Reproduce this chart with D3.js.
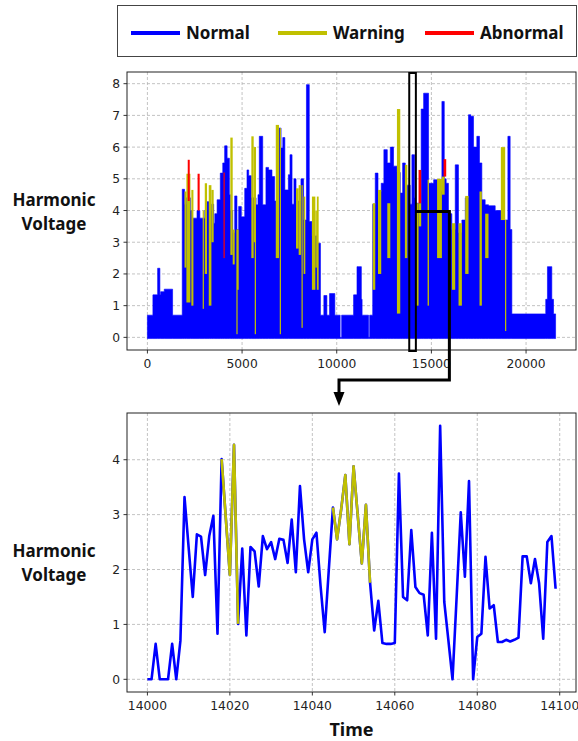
<!DOCTYPE html>
<html>
<head>
<meta charset="utf-8">
<script src="https://cdn.jsdelivr.net/npm/d3@7/dist/d3.min.js"></script>
<style>
    body { margin: 0; background: #fff; }
    .tick-label { font-family: "DejaVu Sans", sans-serif; font-size: 12.3px; fill: #222; }
    .title-label { font-family: "Noto Sans", sans-serif; font-weight: 700; fill: #111; }
</style>
</head>
<body>
<div id="chart"></div>
<script>
/* DATA */
// overview series: outer envelope of the dense trace, [time, level] held until the next time
const overviewEnvelope = [
    [0, 0.7], [290, 1.34], [540, 2.18], [660, 1.34], [700, 1.44], [890, 1.52], [1330, 0.7],
    [1840, 4.67], [1960, 4.2], [2060, 4.4], [2270, 4.0], [2360, 3.76], [2620, 4.0], [2770, 3.76],
    [3030, 4.0], [3150, 4.28], [3280, 4.0], [3380, 4.2], [3500, 3.6], [3560, 3.9], [3680, 4.34],
    [3850, 5.18], [3980, 5.5], [4080, 6.04], [4210, 5.65], [4330, 4.5], [4380, 4.0], [4505, 3.3],
    [4610, 4.46], [4730, 3.4], [4820, 4.13], [4960, 3.8], [5140, 4.7], [5260, 5.28], [5350, 5.1],
    [5490, 4.4], [5740, 4.18], [5840, 4.5], [5910, 6.34], [6090, 4.18], [6260, 5.36], [6400, 5.28],
    [6580, 5.07], [6720, 4.3], [6950, 6.6], [7060, 5.97], [7150, 6.3], [7260, 4.65], [7445, 5.13],
    [7530, 5.76], [7640, 4.2], [7740, 5.0], [7850, 4.3], [8110, 5.0], [8250, 3.7], [8400, 7.97],
    [8550, 3.65], [8690, 3.2], [8960, 2.97], [9140, 0.7], [9320, 1.32], [9480, 0.7], [9620, 1.38],
    [9900, 0.7], [10180, 0.0], [10260, 0.7], [10890, 1.34], [11070, 2.23], [11300, 1.2], [11340, 0.7],
    [11680, 0.0], [11740, 0.7], [11900, 4.2], [12035, 5.18], [12180, 4.6], [12350, 4.86], [12490, 5.92],
    [12670, 5.5], [12830, 6.0], [13000, 5.4], [13180, 5.2], [13355, 4.55], [13480, 5.5], [13620, 4.8],
    [13880, 4.2], [13970, 5.76], [14110, 4.4], [14150, 4.23], [14460, 7.2], [14590, 7.7], [14850, 4.86],
    [15120, 4.97], [15380, 4.6], [15555, 7.44], [15680, 5.0], [15780, 4.86], [15900, 3.9], [16080, 3.4],
    [16260, 5.44], [16430, 3.3], [16610, 3.7], [16790, 4.4], [16960, 7.02], [17085, 6.97], [17225, 6.0],
    [17400, 6.34], [17540, 5.5], [17665, 4.34], [17840, 4.18], [18020, 4.15], [18370, 4.0], [18720, 3.7],
    [19040, 6.34], [19160, 3.4], [19250, 0.74], [21040, 1.2], [21130, 2.23], [21360, 1.2], [21450, 0.74],
    [21560, 0.74]
];

// warning stretches of the overview: [from, to, low, high]
const overviewWarning = [
    [1960, 2060, 2.2, 4.6], [2060, 2270, 1.1, 5.16], [2320, 2430, 1.0, 4.65], [2920, 2960, 0.9, 4.0],
    [3030, 3150, 2.0, 4.86], [3240, 3380, 1.0, 4.8], [3380, 3500, 3.0, 4.65], [4380, 4505, 2.6, 6.3],
    [4505, 4610, 2.3, 3.4], [4700, 4740, 0.1, 3.4], [4734, 4822, 1.5, 3.4], [5490, 5613, 2.5, 6.34],
    [5613, 5736, 3.0, 6.0], [5670, 5710, 0.1, 6.0], [6780, 6950, 2.5, 6.7], [6990, 7030, 0.1, 6.6],
    [7850, 7990, 2.8, 4.7], [7990, 8110, 2.6, 4.8], [8140, 8180, 0.3, 4.8], [8250, 8340, 2.0, 4.44],
    [8690, 8870, 1.5, 4.44], [8870, 8950, 2.2, 4.0], [8950, 9045, 1.5, 4.44],
    [11900, 12035, 1.5, 4.23], [12180, 12350, 2.0, 4.65], [12670, 12830, 2.5, 4.23], [13180, 13355, 0.75, 7.2],
    [13600, 13730, 2.5, 5.44], [14146, 14322, 1.0, 4.23], [14322, 14462, 3.5, 4.23], [14800, 14870, 1.0, 4.97],
    [15300, 15555, 2.5, 5.0], [15555, 15700, 4.5, 5.07], [16082, 16258, 1.5, 3.6], [16434, 16610, 1.0, 3.6],
    [16786, 16962, 2.0, 4.46], [17542, 17665, 1.0, 4.6], [17841, 18017, 2.5, 3.9], [18668, 18897, 3.7, 6.0],
    [18890, 18930, 0.2, 3.7]
];

// abnormal stretches of the overview: [from, to, low, high]
const overviewAbnormal = [
    [2130, 2236, 4.3, 5.6], [2650, 2760, 4.0, 5.16], [4020, 4060, 2.5, 5.2],
    [14322, 14462, 4.23, 5.28], [15643, 15783, 5.07, 5.62]
];

// detail view, one reading per time step starting at 14000
const detailStart = 14000;
const detailValues = [
    0.0, 0.0, 0.645, 0.0, 0.0, 0.0, 0.645, 0.0, 0.7, 3.32,
    2.4, 1.5, 2.64, 2.6, 1.9, 2.61, 2.98, 0.83, 4.01, 2.95,
    1.9, 4.27, 1.01, 2.38, 0.8, 2.41, 2.33, 1.69, 2.61, 2.37,
    2.5, 2.19, 2.56, 2.54, 2.12, 2.91, 1.95, 3.52, 2.55, 1.95,
    2.55, 2.67, 1.7, 0.86, 2.0, 3.13, 2.55, 3.1, 3.72, 2.46,
    3.88, 3.0, 2.11, 3.18, 1.76, 0.89, 1.43, 0.66, 0.645, 0.645,
    0.66, 3.75, 1.5, 1.44, 2.72, 1.68, 1.57, 1.54, 0.8, 2.67,
    0.74, 4.62, 1.41, 0.71, 0.0, 1.5, 3.04, 1.87, 3.61, 0.0,
    0.77, 0.83, 2.23, 1.29, 1.35, 0.68, 0.68, 0.72, 0.69, 0.72,
    0.76, 2.24, 2.24, 1.75, 2.19, 1.75, 0.74, 2.5, 2.61, 1.65
];
// warning time ranges in the detail view
const detailWarning = [[14018, 14022], [14045, 14054]];

// zoom window marked on the overview
const zoomWindow = [13830, 14180];

const legendLabels = ["Normal", "Warning", "Abnormal"];
const legendColors = ["#0000ff", "#c0c000", "#ff0000"];

const overviewXTicks = [0, 5000, 10000, 15000, 20000];
const overviewYTicks = [0, 1, 2, 3, 4, 5, 6, 7, 8];
const detailXTicks = [14000, 14020, 14040, 14060, 14080, 14100];
const detailYTicks = [0, 1, 2, 3, 4];

/* LAYOUT */
const width = 578, height = 741;
const topBox = {left: 127, right: 576, top: 72, bottom: 350};
const botBox = {left: 127, right: 576, top: 413, bottom: 692};
const [NORMAL, WARNING, ABNORMAL] = legendColors;

const svg = d3.select("#chart")
    .append("svg")
    .attr("width", width)
    .attr("height", height)
    .style("display", "block");

// matplotlib-like 5% padding on the data extent
const padded = ([lo, hi]) => {
    const p = (hi - lo) * 0.05;
    return [lo - p, hi + p];
};

/* LEGEND */
const legend = svg.append("g");
legend.append("rect")
    .attr("x", 117.5).attr("y", 5.5)
    .attr("width", 459).attr("height", 51)
    .attr("fill", "none")
    .attr("stroke", "#444")
    .attr("stroke-width", 1);

legendLabels.forEach((label, i) => {
    const x0 = 131 + i * 147;
    legend.append("line")
        .attr("x1", x0).attr("x2", x0 + 49)
        .attr("y1", 33).attr("y2", 33)
        .attr("stroke", legendColors[i])
        .attr("stroke-width", 4);
    legend.append("text")
        .attr("class", "title-label")
        .attr("x", x0 + 55).attr("y", 38.5)
        .style("font-size", "17px")
        .text(label);
});

// Draws grid, ticks and tick labels for one panel
const drawAxes = (g, box, x, y, xTicks, yTicks) => {
    const grid = g.append("g");
    grid.selectAll(".gx").data(xTicks).enter()
        .append("line")
        .attr("x1", d => x(d)).attr("x2", d => x(d))
        .attr("y1", box.top).attr("y2", box.bottom)
        .attr("stroke", "#b4b4b4").attr("stroke-width", 0.8)
        .attr("stroke-dasharray", "3,2");
    grid.selectAll(".gy").data(yTicks).enter()
        .append("line")
        .attr("x1", box.left).attr("x2", box.right)
        .attr("y1", d => y(d)).attr("y2", d => y(d))
        .attr("stroke", "#b4b4b4").attr("stroke-width", 0.8)
        .attr("stroke-dasharray", "3,2");

    const ticks = g.append("g");
    ticks.selectAll(".tx").data(xTicks).enter()
        .append("line")
        .attr("x1", d => x(d)).attr("x2", d => x(d))
        .attr("y1", box.bottom).attr("y2", box.bottom + 3.5)
        .attr("stroke", "#000").attr("stroke-width", 0.8);
    ticks.selectAll(".lx").data(xTicks).enter()
        .append("text")
        .attr("class", "tick-label")
        .attr("x", d => x(d)).attr("y", box.bottom + 18)
        .attr("text-anchor", "middle")
        .text(d => d);
    ticks.selectAll(".ty").data(yTicks).enter()
        .append("line")
        .attr("x1", box.left - 3.5).attr("x2", box.left)
        .attr("y1", d => y(d)).attr("y2", d => y(d))
        .attr("stroke", "#000").attr("stroke-width", 0.8);
    ticks.selectAll(".ly").data(yTicks).enter()
        .append("text")
        .attr("class", "tick-label")
        .attr("x", box.left - 7).attr("y", d => y(d) + 4.4)
        .attr("text-anchor", "end")
        .text(d => d);
};

const drawFrame = (g, box) => {
    g.append("rect")
        .attr("x", box.left).attr("y", box.top)
        .attr("width", box.right - box.left).attr("height", box.bottom - box.top)
        .attr("fill", "none")
        .attr("stroke", "#222")
        .attr("stroke-width", 1);
};

// two-line y axis title, first baseline at yHarmonic
const drawYLabel = (g, yHarmonic) => {
    g.append("text").attr("class", "title-label")
        .attr("x", 54).attr("y", yHarmonic)
        .attr("text-anchor", "middle").style("font-size", "17px")
        .text("Harmonic");
    g.append("text").attr("class", "title-label")
        .attr("x", 54).attr("y", yHarmonic + 23.5)
        .attr("text-anchor", "middle").style("font-size", "17px")
        .text("Voltage");
};

/* OVERVIEW PANEL */
const xTop = d3.scaleLinear()
    .domain(padded(d3.extent(overviewEnvelope, d => d[0])))
    .range([topBox.left, topBox.right]);
const yTop = d3.scaleLinear()
    .domain(padded([0, d3.max(overviewEnvelope, d => d[1])]))
    .range([topBox.bottom, topBox.top]);

const topG = svg.append("g");
drawAxes(topG, topBox, xTop, yTop, overviewXTicks, overviewYTicks);

svg.append("clipPath").attr("id", "clip-top")
    .append("rect")
    .attr("x", topBox.left).attr("y", topBox.top)
    .attr("width", topBox.right - topBox.left).attr("height", topBox.bottom - topBox.top);

const topData = topG.append("g").attr("clip-path", "url(#clip-top)");

const envelopeArea = d3.area()
    .curve(d3.curveStepAfter)
    .x(d => xTop(d[0]))
    .y0(yTop(0) + 1.2)
    .y1(d => yTop(d[1]));

topData.append("path")
    .datum(overviewEnvelope)
    .attr("d", envelopeArea)
    .attr("fill", NORMAL)
    .attr("stroke", NORMAL)
    .attr("stroke-width", 0.6);

const drawStretches = (rows, color) => {
    topData.append("g").selectAll("rect").data(rows).enter()
        .append("rect")
        .attr("x", d => xTop(d[0]))
        .attr("width", d => Math.max(xTop(d[1]) - xTop(d[0]), 1.2))
        .attr("y", d => yTop(d[3]))
        .attr("height", d => yTop(d[2]) - yTop(d[3]))
        .attr("fill", color);
};
drawStretches(overviewWarning, WARNING);
drawStretches(overviewAbnormal, ABNORMAL);

drawFrame(topG, topBox);
drawYLabel(svg, 206);

/* DETAIL PANEL */
const detailTime = detailValues.map((v, i) => detailStart + i);
const detailPoints = detailValues.map((v, i) => [detailTime[i], v]);

const xBot = d3.scaleLinear()
    .domain(padded(d3.extent(detailTime)))
    .range([botBox.left, botBox.right]);
const yBot = d3.scaleLinear()
    .domain(padded([0, d3.max(detailValues)]))
    .range([botBox.bottom, botBox.top]);

const botG = svg.append("g");
drawAxes(botG, botBox, xBot, yBot, detailXTicks, detailYTicks);

const detailLine = d3.line()
    .x(d => xBot(d[0]))
    .y(d => yBot(d[1]));

botG.append("path")
    .datum(detailPoints)
    .attr("d", detailLine)
    .attr("fill", "none")
    .attr("stroke", NORMAL)
    .attr("stroke-width", 2.6)
    .attr("stroke-linejoin", "round");

botG.append("g").selectAll("path").data(detailWarning).enter()
    .append("path")
    .attr("d", r => detailLine(detailPoints.filter(p => p[0] >= r[0] && p[0] <= r[1])))
    .attr("fill", "none")
    .attr("stroke", WARNING)
    .attr("stroke-width", 2.6)
    .attr("stroke-linejoin", "round");

drawFrame(botG, botBox);
drawYLabel(svg, 557);

svg.append("text").attr("class", "title-label")
    .attr("x", (botBox.left + botBox.right) / 2).attr("y", 736)
    .attr("text-anchor", "middle").style("font-size", "18px")
    .text("Time");

/* ZOOM ANNOTATION */
const annot = svg.append("g");
const yMid = yTop(3.97);
const xBend = xTop(15950);
const yElbow = 380;
const xArrow = 339;

annot.append("rect")
    .attr("x", xTop(zoomWindow[0])).attr("y", 73)
    .attr("width", xTop(zoomWindow[1]) - xTop(zoomWindow[0]))
    .attr("height", 278)
    .attr("fill", "none")
    .attr("stroke", "#000")
    .attr("stroke-width", 2);

annot.append("path")
    .attr("d", `M${xTop(zoomWindow[1])},${yMid} H${xBend} V${yElbow} H${xArrow} V${botBox.top - 20}`)
    .attr("fill", "none")
    .attr("stroke", "#000")
    .attr("stroke-width", 3);

annot.append("path")
    .attr("d", `M${xArrow - 5.5},${botBox.top - 21} L${xArrow + 5.5},${botBox.top - 21} L${xArrow},${botBox.top - 7} Z`)
    .attr("fill", "#000");
</script>
</body>
</html>
